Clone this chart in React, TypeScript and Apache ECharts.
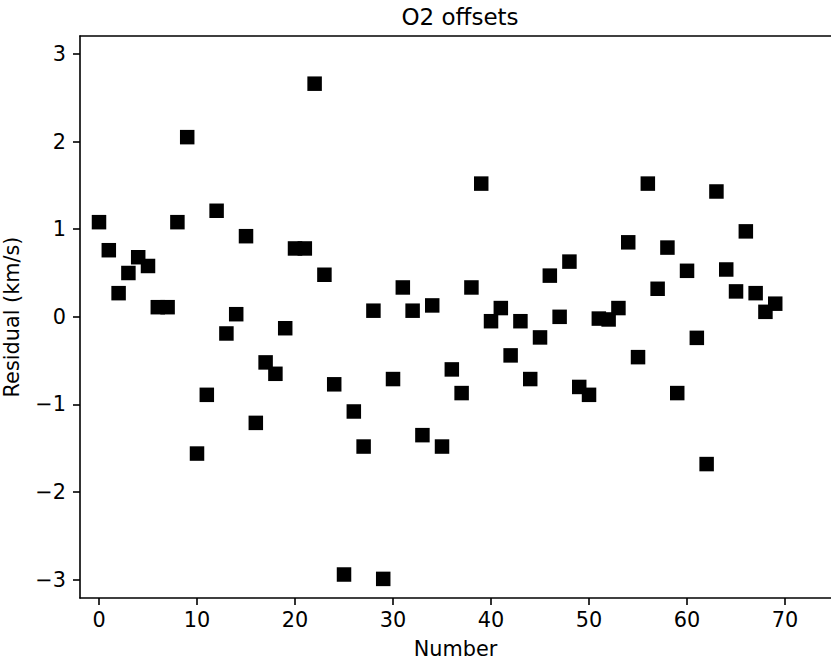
import React, { useEffect, useRef } from "react";
import * as echarts from "echarts";

const numbers: number[] = Array.from({ length: 70 }, (_, i) => i);
const residuals: number[] = [
  1.08, 0.76, 0.27, 0.50, 0.68, 0.58, 0.11, 0.11, 1.08, 2.05,
  -1.56, -0.89, 1.21, -0.19, 0.03, 0.92, -1.21, -0.52, -0.65, -0.13,
  0.78, 0.78, 2.66, 0.48, -0.77, -2.94, -1.08, -1.48, 0.07, -2.99,
  -0.71, 0.335, 0.07, -1.35, 0.13, -1.48, -0.60, -0.87, 0.335, 1.52,
  -0.05, 0.10, -0.44, -0.05, -0.71, -0.235, 0.47, 0.0, 0.63, -0.80,
  -0.89, -0.02, -0.03, 0.10, 0.85, -0.46, 1.52, 0.32, 0.79, -0.87,
  0.525, -0.24, -1.68, 1.43, 0.54, 0.29, 0.975, 0.27, 0.057, 0.15,
];
const xTicks: number[] = [0, 10, 20, 30, 40, 50, 60, 70];
const yTicks: number[] = [-3, -2, -1, 0, 1, 2, 3];

const FONT = "DejaVu Sans";

export default function App() {
  const ref = useRef<HTMLDivElement>(null);
  useEffect(() => {
    if (!ref.current) return;
    const chart = echarts.init(ref.current, undefined, { renderer: "svg" });
    const lineStyle = { color: "#000", width: 1.6 };
    chart.setOption({
      animation: false,
      backgroundColor: "#fff",
      title: {
        text: "O2 offsets",
        left: 455,
        top: 0,
        textAlign: "center",
        textStyle: { fontFamily: FONT, fontSize: 23, fontWeight: "normal", color: "#000" },
      },
      grid: {
        left: 80,
        right: 0,
        top: 36,
        bottom: 66,
        containLabel: false,
        outerBoundsMode: "none",
      },
      xAxis: [
        {
          type: "value",
          min: -1.939,
          max: 74.69,
          axisLine: { show: true, onZero: false, lineStyle },
          axisTick: { show: true, length: 7, lineStyle, customValues: xTicks },
          splitLine: { show: false },
          axisLabel: {
            customValues: xTicks,
            fontFamily: FONT,
            fontSize: 20.8,
            color: "#000",
            margin: 11,
          },
          name: "Number",
          nameLocation: "middle",
          nameGap: 40,
          nameTextStyle: { fontFamily: FONT, fontSize: 20.8, color: "#000" },
        },
        {
          type: "value",
          position: "top",
          min: -1.939,
          max: 74.69,
          axisLine: { show: true, onZero: false, lineStyle },
          axisTick: { show: false },
          axisLabel: { show: false },
          splitLine: { show: false },
        },
      ],
      yAxis: {
        type: "value",
        min: -3.208,
        max: 3.204,
        axisLine: { show: true, onZero: false, lineStyle },
        axisTick: { show: true, length: 7, lineStyle, customValues: yTicks },
        splitLine: { show: false },
        axisLabel: {
          customValues: yTicks,
          fontFamily: FONT,
          fontSize: 20.8,
          color: "#000",
          margin: 14,
          formatter: (v: number) => String(v).replace("-", "\u2212"),
        },
        name: "Residual (km/s)",
        nameLocation: "middle",
        nameGap: 58,
        nameTextStyle: { fontFamily: FONT, fontSize: 20.8, color: "#000" },
      },
      series: [
        {
          type: "scatter",
          xAxisIndex: 0,
          symbol: "rect",
          symbolSize: 14.5,
          itemStyle: { color: "#000", opacity: 1 },
          data: numbers.map((n, i) => [n, residuals[i]]),
        },
      ],
    });
    return () => chart.dispose();
  }, []);
  return (
    <div
      ref={ref}
      style={{ position: "fixed", left: 0, top: 0, width: 831, height: 664, background: "#fff" }}
    />
  );
}
